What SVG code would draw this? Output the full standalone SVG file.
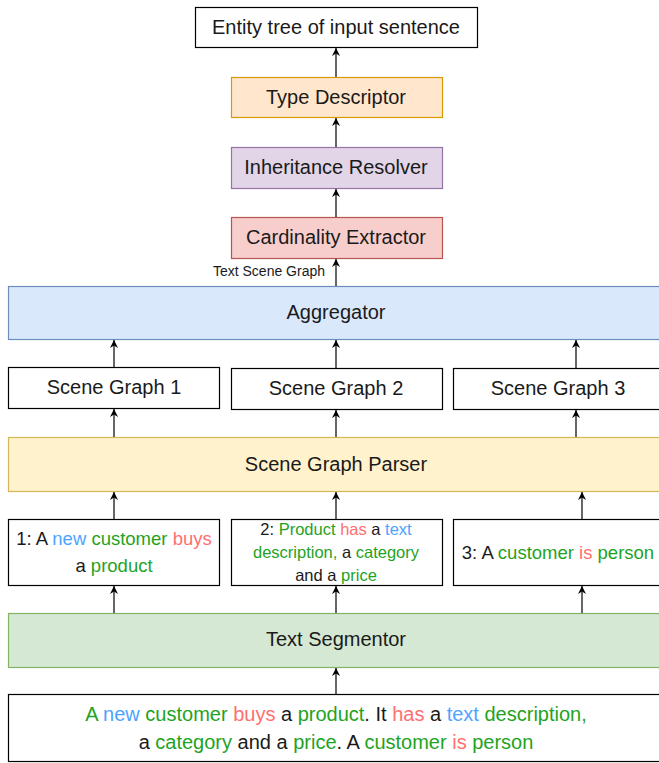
<svg xmlns="http://www.w3.org/2000/svg" width="659" height="763" viewBox="0 0 659 763">
<style>
text{font-family:"Liberation Sans",Arial,sans-serif;fill:#1a1a1a;text-anchor:middle}
.t20{font-size:20px}
.plain{fill:#ffffff;stroke:#000000;stroke-width:1.2}
.g{fill:#1fa31f}
.b{fill:#4da3ff}
.r{fill:#ff6f6f}
.k{fill:#1a1a1a}
.conn{stroke:#000000;stroke-width:1.2;fill:none;marker-end:url(#arr)}
</style>
<defs>
<marker id="arr" viewBox="0 0 10 10" refX="10" refY="5" markerWidth="9" markerHeight="8" markerUnits="userSpaceOnUse" orient="auto">
<path d="M0,0 L10,5 L0,10 L3,5 z" fill="#000000"/>
</marker>
</defs>

<g id="entity-tree">
<rect class="plain" x="195.5" y="7.5" width="282" height="40"/>
<text class="t20" x="336" y="34">Entity tree of input sentence</text>
</g>
<g id="type-descriptor">
<rect x="231.5" y="77.5" width="211" height="40" fill="#ffe6cc" stroke="#d79b00" stroke-width="1.2"/>
<text class="t20" x="336" y="104">Type Descriptor</text>
</g>
<g id="inheritance-resolver">
<rect x="231.5" y="147.5" width="211" height="41" fill="#e1d5e7" stroke="#9673a6" stroke-width="1.2"/>
<text class="t20" x="336" y="174">Inheritance Resolver</text>
</g>
<g id="cardinality-extractor">
<rect x="231.5" y="217.5" width="211" height="41" fill="#f8cecc" stroke="#b85450" stroke-width="1.2"/>
<text class="t20" x="336" y="244">Cardinality Extractor</text>
</g>
<g id="aggregator">
<rect x="8.5" y="286.5" width="655" height="53" fill="#dae8fc" stroke="#6c8ebf" stroke-width="1.2"/>
<text class="t20" x="336" y="319">Aggregator</text>
</g>
<g id="scene-graph-1">
<rect class="plain" x="8.5" y="367.5" width="211" height="41"/>
<text class="t20" x="114" y="394">Scene Graph 1</text>
</g>
<g id="scene-graph-2">
<rect class="plain" x="231.5" y="368.5" width="211" height="41"/>
<text class="t20" x="336" y="395">Scene Graph 2</text>
</g>
<g id="scene-graph-3">
<rect class="plain" x="453.5" y="368.5" width="211" height="41"/>
<text class="t20" x="558" y="395">Scene Graph 3</text>
</g>
<g id="scene-graph-parser">
<rect x="8.5" y="437.5" width="655" height="54" fill="#fff2cc" stroke="#d6b656" stroke-width="1.2"/>
<text class="t20" x="336" y="471">Scene Graph Parser</text>
</g>
<g id="sentence-1">
<rect class="plain" x="8.5" y="519.5" width="211" height="66"/>
<text x="114" y="545" font-size="18.5"><tspan class="k">1: A </tspan><tspan class="b">new</tspan><tspan class="k"> </tspan><tspan class="g">customer</tspan><tspan class="k"> </tspan><tspan class="r">buys</tspan></text>
<text x="114" y="572" font-size="18.5"><tspan class="k">a </tspan><tspan class="g">product</tspan></text>
</g>
<g id="sentence-2">
<rect class="plain" x="231.5" y="519.5" width="211" height="66"/>
<text x="336" y="535" font-size="16.5"><tspan class="k">2: </tspan><tspan class="g">Product</tspan><tspan class="k"> </tspan><tspan class="r">has</tspan><tspan class="k"> a </tspan><tspan class="b">text</tspan></text>
<text x="336" y="558" font-size="16.5"><tspan class="g">description,</tspan><tspan class="k"> a </tspan><tspan class="g">category</tspan></text>
<text x="336" y="581" font-size="16.5"><tspan class="k">and a </tspan><tspan class="g">price</tspan></text>
</g>
<g id="sentence-3">
<rect class="plain" x="453.5" y="519.5" width="211" height="66"/>
<text x="558" y="559" font-size="18.5"><tspan class="k">3: A </tspan><tspan class="g">customer</tspan><tspan class="k"> </tspan><tspan class="r">is</tspan><tspan class="k"> </tspan><tspan class="g">person</tspan></text>
</g>
<g id="text-segmentor">
<rect x="8.5" y="613.5" width="655" height="54" fill="#d5e8d4" stroke="#82b366" stroke-width="1.2"/>
<text class="t20" x="336" y="646">Text Segmentor</text>
</g>
<g id="input-sentence">
<rect class="plain" x="8.5" y="694.5" width="655" height="67"/>
<text class="t20" x="336" y="721"><tspan class="g">A</tspan><tspan class="k"> </tspan><tspan class="b">new</tspan><tspan class="k"> </tspan><tspan class="g">customer</tspan><tspan class="k"> </tspan><tspan class="r">buys</tspan><tspan class="k"> a </tspan><tspan class="g">product</tspan><tspan class="k">. It </tspan><tspan class="r">has</tspan><tspan class="k"> a </tspan><tspan class="b">text</tspan><tspan class="k"> </tspan><tspan class="g">description,</tspan></text>
<text class="t20" x="336" y="749"><tspan class="k">a </tspan><tspan class="g">category</tspan><tspan class="k"> and a </tspan><tspan class="g">price</tspan><tspan class="k">. A </tspan><tspan class="g">customer</tspan><tspan class="k"> </tspan><tspan class="r">is</tspan><tspan class="k"> </tspan><tspan class="g">person</tspan></text>
</g>

<g id="connectors">
<line class="conn" x1="336" y1="77" x2="336" y2="48"/>
<line class="conn" x1="336" y1="147" x2="336" y2="118"/>
<line class="conn" x1="336" y1="217" x2="336" y2="189"/>
<line class="conn" x1="336" y1="286" x2="336" y2="259"/>
<text x="269" y="276" font-size="14">Text Scene Graph</text>
<line class="conn" x1="114" y1="367" x2="114" y2="340"/>
<line class="conn" x1="336" y1="368" x2="336" y2="340"/>
<line class="conn" x1="576" y1="368" x2="576" y2="340"/>
<line class="conn" x1="114" y1="437" x2="114" y2="409"/>
<line class="conn" x1="336" y1="437" x2="336" y2="410"/>
<line class="conn" x1="576" y1="437" x2="576" y2="410"/>
<line class="conn" x1="114" y1="519" x2="114" y2="492"/>
<line class="conn" x1="336" y1="519" x2="336" y2="492"/>
<line class="conn" x1="582" y1="519" x2="582" y2="492"/>
<line class="conn" x1="114" y1="613" x2="114" y2="586"/>
<line class="conn" x1="336" y1="613" x2="336" y2="586"/>
<line class="conn" x1="582" y1="613" x2="582" y2="586"/>
<line class="conn" x1="336" y1="694" x2="336" y2="668"/>
</g>
</svg>
